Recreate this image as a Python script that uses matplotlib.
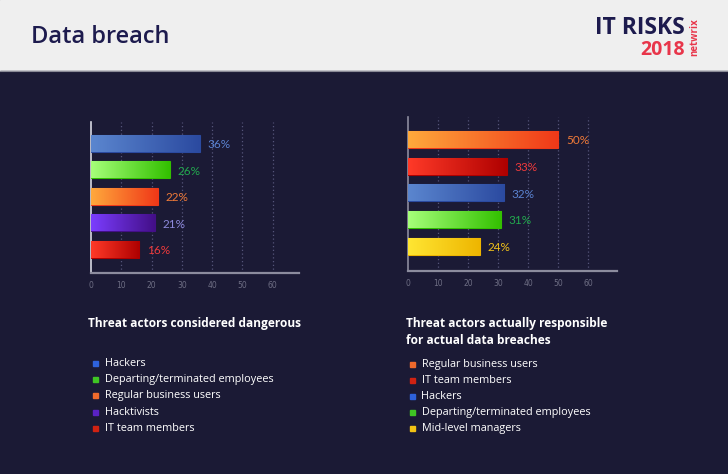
import matplotlib.pyplot as plt
import numpy as np
from matplotlib.colors import LinearSegmentedColormap
from matplotlib.patches import Rectangle

# left panel: threat actors considered dangerous
left_labels = ["Hackers", "Departing/terminated employees", "Regular business users",
               "Hacktivists", "IT team members"]
left_values = [36, 26, 22, 21, 16]
left_grad = [("#5b86cf", "#2b4aa0"), ("#a6ff7a", "#33c000"), ("#ffa93c", "#f03818"),
             ("#7b3dff", "#430f88"), ("#ff3a28", "#ae0000")]
left_text = ["#5a82d0", "#22a84e", "#f07a38", "#8d89dc", "#ee3a3c"]
left_key = ["#2e62dc", "#3fc424", "#f06a2c", "#5a22c4", "#d02212"]

# right panel: threat actors actually responsible
right_labels = ["Regular business users", "IT team members", "Hackers",
                "Departing/terminated employees", "Mid-level managers"]
right_values = [50, 33, 32, 31, 24]
right_grad = [("#ffa93c", "#f03818"), ("#ff3a28", "#ae0000"), ("#5b86cf", "#2b4aa0"),
              ("#a6ff7a", "#33c000"), ("#ffe633", "#eeb500")]
right_text = ["#f07a38", "#ee3a3c", "#5a82d0", "#22a84e", "#f2c21a"]
right_key = ["#f06a2c", "#d02212", "#2e62dc", "#3fc424", "#f2c214"]

ticks = [0, 10, 20, 30, 40, 50, 60]

BG = "#1b1a35"
FONT = ["Open Sans", "DejaVu Sans"]

fig = plt.figure(figsize=(7.28, 4.74), dpi=100)
fig.patch.set_facecolor(BG)

# overlay in pixel coordinates for header, titles and keys
ov = fig.add_axes([0, 0, 1, 1], zorder=-1)
ov.set_xlim(0, 728); ov.set_ylim(474, 0); ov.set_axis_off()
ov.add_patch(Rectangle((0, 0), 728, 71, color="#efefef"))
ov.add_patch(Rectangle((0, 71), 728, 403, color=BG))
ov.plot([0, 728], [71, 71], color="#8a8a96", lw=0.8)
ov.text(31, 37, "Data breach", fontsize=17, color="#1d1b4e", family=FONT,
        weight="semibold", va="center")
narrow = ["Liberation Sans Narrow", "Open Sans", "DejaVu Sans"]
ov.text(685, 28, "IT RISKS", fontsize=16.5, color="#1d1b4e", family=narrow,
        weight="bold", ha="right", va="center")
ov.text(685, 50, "2018", fontsize=14, color="#e8354a", family=narrow,
        weight="bold", ha="right", va="center")
ov.text(695, 37, "netwrix", fontsize=7, color="#e8354a", family=FONT,
        weight="bold", rotation=90, ha="center", va="center")


def panel(rect, labels, values, grads, txt_colors, xmax, ylim, spine_color):
    ax = fig.add_axes(rect)
    ax.set_facecolor("none")
    pos = np.arange(len(values))
    bars = ax.barh(pos, values, height=0.64, color="none", zorder=3)
    for b, (c0, c1), v, p in zip(bars, grads, values, pos):
        cmap = LinearSegmentedColormap.from_list("g", [c0, c1])
        y0 = b.get_y()
        im = ax.imshow(np.linspace(0, 1, 256).reshape(1, -1), cmap=cmap, aspect="auto",
                       extent=[0, v, y0 + b.get_height(), y0], zorder=3)
        im.set_clip_path(b)
        b.set_edgecolor(c1)
        b.set_linewidth(0.8)
    for v, p, c in zip(values, pos, txt_colors):
        ax.text(v + 2.5, p + 0.05, f"{v}%", color=c, fontsize=8.5, va="center",
                family=["Lato", "DejaVu Sans"], zorder=4)
    ax.set_xlim(0, xmax)
    ax.set_ylim(*ylim)
    ax.set_xticks(ticks)
    ax.set_xticklabels([str(t) for t in ticks])
    ax.set_yticks([])
    ax.tick_params(axis="x", length=0, colors="#6e6e84", labelsize=5.5, pad=6)
    for t in ticks[1:]:
        ax.axvline(t, color="#55557a", lw=0.9, ls=(0, (1, 2)), zorder=1)
    for s in ["top", "right"]:
        ax.spines[s].set_visible(False)
    ax.spines["left"].set_color(spine_color)
    ax.spines["left"].set_linewidth(1.2)
    ax.spines["bottom"].set_color("#8c8c9e")
    ax.spines["bottom"].set_linewidth(1.6)
    return ax


panel([91 / 728, 1 - 273 / 474, 208 / 728, 151 / 474], left_labels, left_values,
      left_grad, left_text, 68.7, (4.89, -0.8), "#d8d8e2")
panel([408.3 / 728, 1 - 270.7 / 474, 208.7 / 728, 154 / 474], right_labels, right_values,
      right_grad, right_text, 69.5, (4.92, -0.86), "#8c8c9e")

# titles and keys
ov.text(88, 324, "Threat actors considered dangerous", fontsize=8.6, color="white",
        weight="bold", family=FONT, va="center")
ov.text(406, 332, "Threat actors actually responsible\nfor actual data breaches",
        fontsize=8.6, color="white", weight="bold", family=FONT, va="center",
        linespacing=1.3)

for i, (lab, c) in enumerate(zip(left_labels, left_key)):
    y = 363 + i * 16.4
    ov.add_patch(Rectangle((92.5, y - 2.5), 5, 5, color=c))
    ov.text(105, y, lab, fontsize=7.8, color="white", family=FONT, va="center")

for i, (lab, c) in enumerate(zip(right_labels, right_key)):
    y = 364 + i * 16.2
    ov.add_patch(Rectangle((410, y - 2.5), 5, 5, color=c))
    ov.text(421.5, y, lab, fontsize=7.8, color="white", family=FONT, va="center")

fig.savefig("out.png", dpi=100, facecolor=fig.get_facecolor())
